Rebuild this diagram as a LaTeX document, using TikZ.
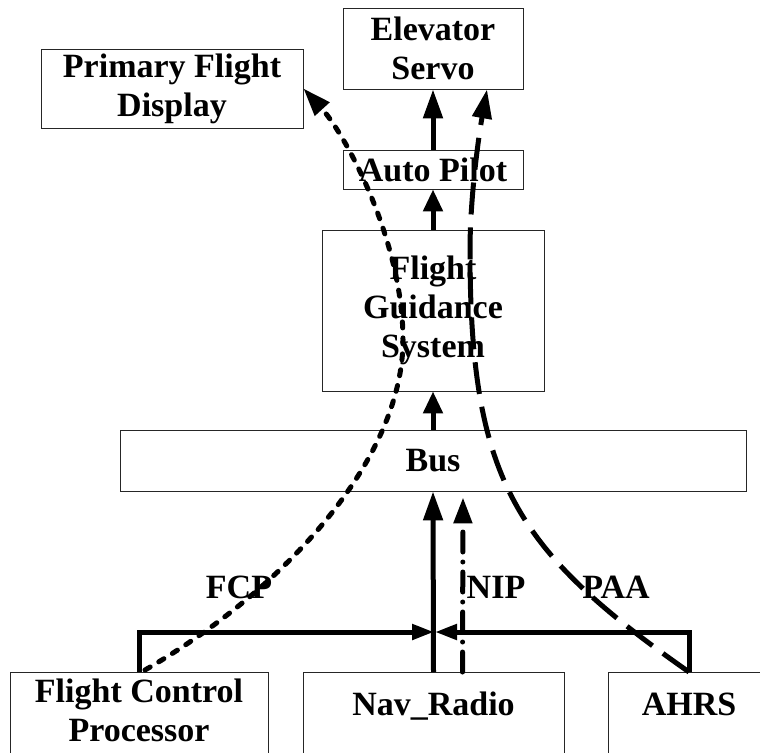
\documentclass[tikz,border=0pt]{standalone}
\usepackage{fontspec}
\setmainfont{Liberation Serif}
\usetikzlibrary{arrows.meta,calc}
\begin{document}
\begin{tikzpicture}[x=1pt,y=-1pt,
  box/.style={draw=black!85, line width=0.8pt, inner sep=0pt, align=center, font=\bfseries\fontsize{34}{39}\selectfont},
  txt/.style={inner sep=0pt, align=center, font=\bfseries\fontsize{34}{39}\selectfont},
  flow/.style={line width=5pt, -{Triangle[length=29pt,width=19pt]}},
  shortflow/.style={line width=5pt, -{Triangle[length=22pt,width=19pt]}},
  baro/.style={line width=5pt, -{Triangle[length=22pt,width=15pt]}},
  fcpline/.style={line width=5pt, line cap=round, dash pattern=on 6pt off 10pt, -{Triangle[length=28pt,width=19pt]}},
  paaline/.style={line width=5pt, dash pattern=on 32pt off 13pt, -{Triangle[length=29pt,width=19pt]}},
  nipline/.style={line width=5pt, line cap=round, dash pattern=on 20pt off 10pt on 0pt off 10pt, -{Triangle[length=26pt,width=18pt]}}
]
\useasboundingbox (0,0) rectangle (760,752);
% boxes
\node[box, minimum width=180pt, minimum height=81pt] (es) at (433,48.5) {Elevator\\Servo};
\node[box, minimum width=262pt, minimum height=79pt] (pfd) at (172,88.5) {Primary Flight\\Display};
\node[box, minimum width=180pt, minimum height=39pt] (ap) at (433,169.5) {Auto Pilot};
\node[box, minimum width=222pt, minimum height=161pt] (fgs) at (433,310.5) {Flight\\Guidance\\System};
\node[box, minimum width=626pt, minimum height=61pt] (bus) at (433,460.5) {Bus};
\node[box, minimum width=258pt, minimum height=100pt, anchor=north] (fcp) at (139,672) {};
\node[box, minimum width=261pt, minimum height=100pt, anchor=north] (nav) at (433.5,672) {};
\node[box, minimum width=162pt, minimum height=100pt, anchor=north] (ahrs) at (689,672) {};
\node[txt] (fcpt) at (139,710) {Flight Control\\Processor};
\node[txt, anchor=base] (navt) at (433.5,715) {Nav\_Radio};
\node[txt, anchor=base] (ahrst) at (689,715) {AHRS};
% labels
\node[txt, anchor=base] (lfcp) at (239,598) {FCP};
\node[txt, anchor=base] (lnip) at (496,598) {NIP};
\node[txt, anchor=base] (lpaa) at (616,598) {PAA};
% straight arrows
\draw[shortflow] (bus.north) -- (fgs.south);
\draw[shortflow] (fgs.north) -- (ap.south);
\draw[flow] (ap.north) -- (es.south);
\draw[flow] (nav.north) -- (bus.south);
\coordinate (nipS) at ($(nav.north)+(29,0)$);
\coordinate (nipE) at ($(bus.south)+(30,6)$);
\draw[nipline] (nipS) -- (nipE);
\coordinate (barM) at (433,632);
\draw[baro] (fcp.north) |- ($(barM)+(1,0)$);
\draw[baro] (ahrs.north) |- ($(barM)+(2,0)$);
% curves
\draw[fcpline] ($(fcp.north)+(6,-2)$) .. controls (292,585) and (403,455) .. (403,340)
   .. controls (403,240) and (345,134) .. (pfd.east);
\draw[paaline] (ahrs.north) .. controls (515,550) and (470,480) .. (470,250)
   .. controls (470,200) and (478,140) .. ($(es.south)+(54,0)$);
\end{tikzpicture}
\end{document}
